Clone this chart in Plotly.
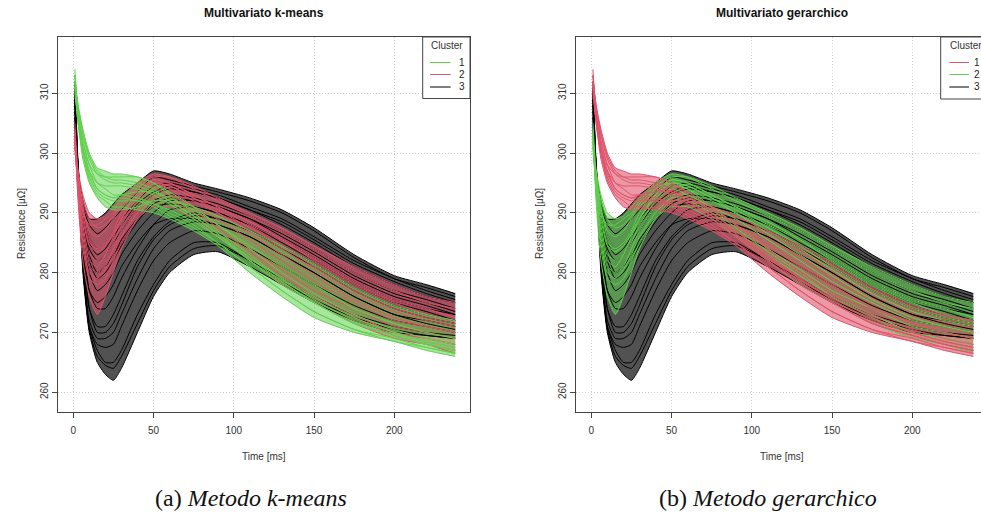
import plotly.graph_objects as go

# ---------------- data ----------------
time_ms = [1, 3, 6, 10, 15, 20, 25, 30, 40, 50, 60, 75, 90, 110, 130, 150, 175, 200, 220, 238]

# family A: high start, no dip (k-means cluster 1 / gerarchico cluster 1)
fam_a = [
    [314, 306, 300, 295.5, 293, 292, 291, 291, 290.5, 290, 289, 287, 284.5, 280, 276, 272.5, 270, 268.5, 267, 266],
    [313, 307, 302, 298, 295, 294, 293, 293, 292.5, 291.5, 290, 288, 285, 281, 277, 273.5, 270.5, 269, 267.5, 266.5],
    [312, 308, 303.5, 299.5, 297, 296, 295.5, 295.5, 295, 294, 292, 289.5, 286.5, 282, 278, 275, 271.5, 269.5, 268, 267],
    [311, 306, 301, 297, 295, 294.5, 294.5, 294.5, 294, 293, 291.5, 289, 286, 282.5, 279, 276, 272.5, 270, 268.5, 267.5],
    [310, 305, 299, 295, 292.5, 291, 290.5, 290.5, 291, 292, 292, 291, 289.5, 287, 284.5, 281.5, 277.5, 274.5, 273, 272],
    [312, 307, 302, 298, 296.5, 296, 296, 296, 296, 295, 293.5, 291, 288, 284, 280, 276.5, 273, 270.5, 269, 268],
    [313, 308, 304, 300, 297.5, 297, 296.5, 296.5, 296, 295, 293, 290, 287, 283, 279, 275.5, 272, 270, 268.5, 267.5],
    [311, 305, 300, 296, 293.5, 292.5, 292, 292, 292, 291.5, 290.5, 288.5, 286, 282, 278.5, 275, 271.5, 269.5, 268, 267],
    [313, 306.5, 301, 297, 294, 293, 292.5, 292.5, 292, 291, 289.5, 287.5, 285, 281, 277, 273.5, 270.5, 268.5, 267.5, 266.5],
    [312, 307.5, 303, 299, 296.5, 295.5, 295, 295, 294.5, 293.5, 292, 289.5, 286.5, 282.5, 278.5, 275, 271.5, 269.5, 268, 267],
    [311, 305.5, 300.5, 296.5, 294, 293, 292.5, 293, 293.5, 293.5, 292.5, 290.5, 288, 284.5, 281, 278, 274, 271.5, 270, 269],
]

# family B: shallow dip, early peak (k-means cluster 2 / gerarchico cluster 2)
fam_b = [
    [304, 292, 282, 276, 273, 276, 280, 284, 289, 291, 291, 289, 286, 282, 278, 275, 271.5, 269, 268, 267],
    [303, 293, 284, 279, 278, 279, 282, 285, 289, 292, 292, 290, 287, 283, 279.5, 276, 273, 270, 269, 268],
    [302, 294, 286, 281, 280, 281, 284, 287, 291, 293, 293, 291, 288, 284, 280.5, 277, 274, 271, 270, 269],
    [303, 295, 288, 283, 282, 283, 285, 288, 292, 294, 293, 291, 289, 285.5, 282, 278.5, 275, 272, 271, 270],
    [302, 296, 290, 285, 284, 285, 287, 289, 292.5, 294.5, 294, 292, 290, 287, 284, 280.5, 276.5, 273.5, 272, 271],
    [301, 296, 291, 287, 286, 287, 289, 291, 293.5, 295.5, 295, 293, 291, 288, 285.5, 282.5, 278.5, 275.5, 274, 272.5],
    [300, 297, 293, 290, 289, 289.5, 291, 292.5, 295, 296.5, 296, 294, 292, 289.5, 287, 284, 280, 277, 275, 274],
    [305, 297, 291, 286, 284, 285, 287, 290, 294, 295, 294, 291, 288, 284, 280, 276, 272.5, 269.5, 268, 266.5],
    [302, 294, 287, 282, 281, 283, 286, 289, 293, 295, 294.5, 292.5, 290, 286.5, 283, 279.5, 275.5, 272.5, 271, 270],
    [301, 295, 290, 288, 288, 289, 290, 292, 294.5, 296, 296, 294.5, 292.5, 290, 287.5, 284.5, 281, 278, 276, 275],
    [303, 294, 285, 280, 279, 280.5, 283, 286, 290, 292.5, 292.5, 290.5, 287.5, 283.5, 280, 276.5, 273, 270, 269, 268],
    [302, 295, 289, 284.5, 283.5, 284.5, 286.5, 289, 293, 295, 294.5, 292.5, 290.5, 287.5, 284.5, 281, 277, 274, 272.5, 271.5],
    [301, 296, 292, 289, 287.5, 288, 289.5, 291.5, 294, 295.5, 295, 293, 291, 288.5, 285.5, 282, 278, 275, 273, 272],
]

# family C: deep dip, late peak (cluster 3 in both)
fam_c = [
    [311, 297, 280, 270, 265, 263, 262, 264, 270, 276, 280, 283, 283.5, 281, 278, 275, 272, 270, 269.5, 269],
    [312, 298, 281, 271, 267, 265, 265, 267, 273, 278, 282, 285, 285, 282, 279, 276, 273, 271, 270, 269.5],
    [310, 297, 282, 271, 268, 267.5, 268, 271, 277, 282, 285, 287, 286.5, 284, 281, 278, 274.5, 272, 271, 270],
    [309, 296, 283, 272, 269, 269, 270, 273, 279, 284, 287, 288.5, 288, 286, 283, 280, 276, 273, 272, 271],
    [311, 298, 285, 274, 271, 271, 273, 276, 282, 286, 288.5, 290, 289, 287, 284.5, 281.5, 277.5, 274.5, 273, 272],
    [308, 297, 286, 277, 274, 274, 276, 279, 284, 288, 290.5, 291, 290, 288, 285.5, 282.5, 278.5, 275.5, 274, 273],
    [307, 297, 288, 280, 277, 278, 280, 283, 287, 290, 292, 292, 291, 289, 286.5, 283.5, 279.5, 276.5, 275, 273.5],
    [306, 297, 289, 283, 280, 281, 283, 285, 289, 292, 293, 292.5, 291.5, 289.5, 287, 284, 280, 277, 275.5, 274],
    [308, 298, 290, 284, 282, 283, 285, 287, 291, 293, 294, 293.5, 292.5, 290.5, 288, 285, 281, 278, 276, 275],
    [305, 297, 291, 286, 284, 285, 287, 289, 292, 294.5, 295, 294, 293, 291, 289, 286, 282, 279, 277, 275.5],
    [304, 296, 291, 288, 286.5, 287.5, 289, 290.5, 293.5, 296, 295.5, 294.5, 293.5, 292, 290, 287, 282.5, 279, 277.5, 276],
    [303, 297, 292, 289, 289, 290, 291.5, 293, 295, 297, 296.5, 295, 294, 292.5, 290.5, 287.5, 283, 279.5, 278, 276.5],
    [309, 296, 285, 277, 275, 276, 278, 281, 285, 288, 289, 289, 288, 286, 283, 280, 276, 273, 271.5, 270.5],
    [306, 296, 287, 281, 280, 281, 283, 285.5, 289, 291, 291.5, 291, 290, 288, 285, 282, 278, 275, 273.5, 272],
    [310, 297, 281, 270.5, 266, 264.5, 264, 266, 271.5, 277, 281, 284, 284.5, 282, 278.5, 275.5, 272.5, 270.5, 269.5, 269],
    [309, 297, 284, 274, 270, 270, 271.5, 274.5, 281, 285.5, 288, 289.5, 289, 287, 284, 281, 277, 274, 272.5, 271.5],
    [307, 298, 289, 282, 279, 280, 282, 284.5, 288.5, 291.5, 292.5, 292, 291, 289, 286, 283, 279, 276, 274.5, 273],
    [305, 296, 290, 285, 283, 284, 286, 288, 291.5, 293.5, 294.5, 293.5, 292.5, 290.5, 288.5, 285.5, 281.5, 278.5, 276.5, 275],
]

x_ticks = [0, 50, 100, 150, 200]
y_ticks = [260, 270, 280, 290, 300, 310]
titles = ["Multivariato k-means", "Multivariato gerarchico"]
captions = ["(a) <i>Metodo k-means</i>", "(b) <i>Metodo gerarchico</i>"]
legend_labels = ["1", "2", "3"]

GREEN = "#61D04F"
RED = "#DF536B"
BLACK = "#000000"
FILL = {GREEN: "rgba(97,208,79,0.55)", RED: "rgba(223,83,107,0.6)", BLACK: "rgba(0,0,0,0.68)"}

# colour of each family in each panel
panel_colors = [
    {"a": GREEN, "b": RED, "c": BLACK},   # k-means
    {"a": RED, "b": GREEN, "c": BLACK},   # gerarchico
]
legend_colors = [[GREEN, RED, BLACK], [RED, GREEN, BLACK]]
families = (("c", fam_c), ("b", fam_b), ("a", fam_a))

W, H = 981, 516
def px(x):
    return x / W
def py(y):
    return 1 - y / H

fig = go.Figure()
spl = dict(shape="spline", smoothing=0.6)

for p in range(2):
    xa = "x" if p == 0 else "x2"
    ya = "y" if p == 0 else "y2"
    cols = panel_colors[p]
    # density bands: pointwise envelope of each cluster's curves
    for fam_key, fam in families:
        hi = [max(c[i] for c in fam) for i in range(len(time_ms))]
        lo = [min(c[i] for c in fam) for i in range(len(time_ms))]
        fig.add_trace(go.Scatter(x=time_ms, y=hi, mode="lines", xaxis=xa, yaxis=ya,
                                 line=dict(width=0, **spl), showlegend=False, hoverinfo="skip"))
        fig.add_trace(go.Scatter(x=time_ms, y=lo, mode="lines", xaxis=xa, yaxis=ya, fill="tonexty",
                                 fillcolor=FILL[cols[fam_key]],
                                 line=dict(width=0, **spl), showlegend=False, hoverinfo="skip"))
    for fam_key, fam in families:
        for curve in fam:
            fig.add_trace(go.Scatter(
                x=time_ms, y=curve, mode="lines", xaxis=xa, yaxis=ya,
                line=dict(color=cols[fam_key], width=1, **spl),
                showlegend=False, hoverinfo="skip"))

axis_font = dict(family="Liberation Sans, Arial, sans-serif", size=10, color="#333")
grid = dict(showgrid=True, gridcolor="#cfcfcf", griddash="1px,2px", gridwidth=1)
common_x = dict(tickvals=x_ticks, ticks="outside", ticklen=5, tickcolor="#444",
                showline=True, linecolor="#444", linewidth=1,
                zeroline=False, tickfont=axis_font, ticklabelstandoff=4, **grid)
common_y = dict(tickvals=y_ticks, ticks="outside", ticklen=5, tickcolor="#444",
                showline=True, linecolor="#444", linewidth=1,
                zeroline=False, tickfont=axis_font, tickangle=-90,
                range=[256.7, 319.4], **grid)

fig.update_layout(
    width=W, height=H, margin=dict(l=0, r=0, t=0, b=0),
    paper_bgcolor="white", plot_bgcolor="white", showlegend=False,
    xaxis=dict(domain=[px(58), px(470)], range=[-9.5, 247.2], mirror=True, anchor="y", **common_x),
    yaxis=dict(domain=[py(412), py(37)], mirror=True, anchor="x", **common_y),
    xaxis2=dict(domain=[px(576.3), 1.0], range=[-9.35, 242.8], mirror=True, anchor="y2", **common_x),
    yaxis2=dict(domain=[py(412), py(37)], mirror=False, anchor="x2", **common_y),
)

ann = []
shapes = []
title_font = dict(family="Liberation Sans, Arial, sans-serif", size=12, color="#111")
lab_font = dict(family="Liberation Sans, Arial, sans-serif", size=10, color="#333")
cap_font = dict(family="Liberation Serif, Times New Roman, serif", size=24, color="#111")

centers = [264, 782]
for p in range(2):
    ann.append(dict(text="<b>%s</b>" % titles[p], x=px(centers[p]), y=py(13), xref="paper", yref="paper",
                    showarrow=False, font=title_font, xanchor="center", yanchor="middle"))
    ann.append(dict(text="Time [ms]", x=px(centers[p]), y=py(456), xref="paper", yref="paper",
                    showarrow=False, font=lab_font, xanchor="center", yanchor="middle"))
    ann.append(dict(text="Resistance [μΩ]", x=px(21 + (518 if p else 0)), y=py(224), xref="paper", yref="paper",
                    showarrow=False, font=lab_font, textangle=-90, xanchor="center", yanchor="middle"))
ann.append(dict(text=captions[0], x=px(251), y=py(498), xref="paper", yref="paper",
                showarrow=False, font=cap_font, xanchor="center", yanchor="middle"))
ann.append(dict(text=captions[1], x=px(768), y=py(498), xref="paper", yref="paper",
                showarrow=False, font=cap_font, xanchor="center", yanchor="middle"))

# legends (R style boxes)
legend_boxes = [(422.7, 470, 37, 98.5), (940.7, 1010, 37, 99)]
line_x = [(430, 450.7), (949.3, 969)]
label_x = [462, 972]
cluster_x = [446.5, 948]
rows_y = [62.5, 74.5, 87]
for p in range(2):
    x0, x1, y0, y1 = legend_boxes[p]
    shapes.append(dict(type="rect", xref="paper", yref="paper", x0=px(x0), x1=px(x1), y0=py(y1), y1=py(y0),
                       line=dict(color="#444", width=1), fillcolor="white", layer="above"))
    ann.append(dict(text="Cluster", x=px(cluster_x[p]), y=py(45.5), xref="paper", yref="paper",
                    showarrow=False, font=lab_font, xanchor="center" if p == 0 else "left", yanchor="middle"))
    for i in range(3):
        shapes.append(dict(type="line", xref="paper", yref="paper", x0=px(line_x[p][0]), x1=px(line_x[p][1]),
                           y0=py(rows_y[i]), y1=py(rows_y[i]), line=dict(color=legend_colors[p][i], width=1),
                           layer="above"))
        ann.append(dict(text=legend_labels[i], x=px(label_x[p]), y=py(rows_y[i]), xref="paper", yref="paper",
                        showarrow=False, font=dict(family="Liberation Sans, Arial, sans-serif", size=10, color="#222"),
                        xanchor="center" if p == 0 else "left", yanchor="middle"))

fig.update_layout(annotations=ann, shapes=shapes)
fig.write_html("out.html")
